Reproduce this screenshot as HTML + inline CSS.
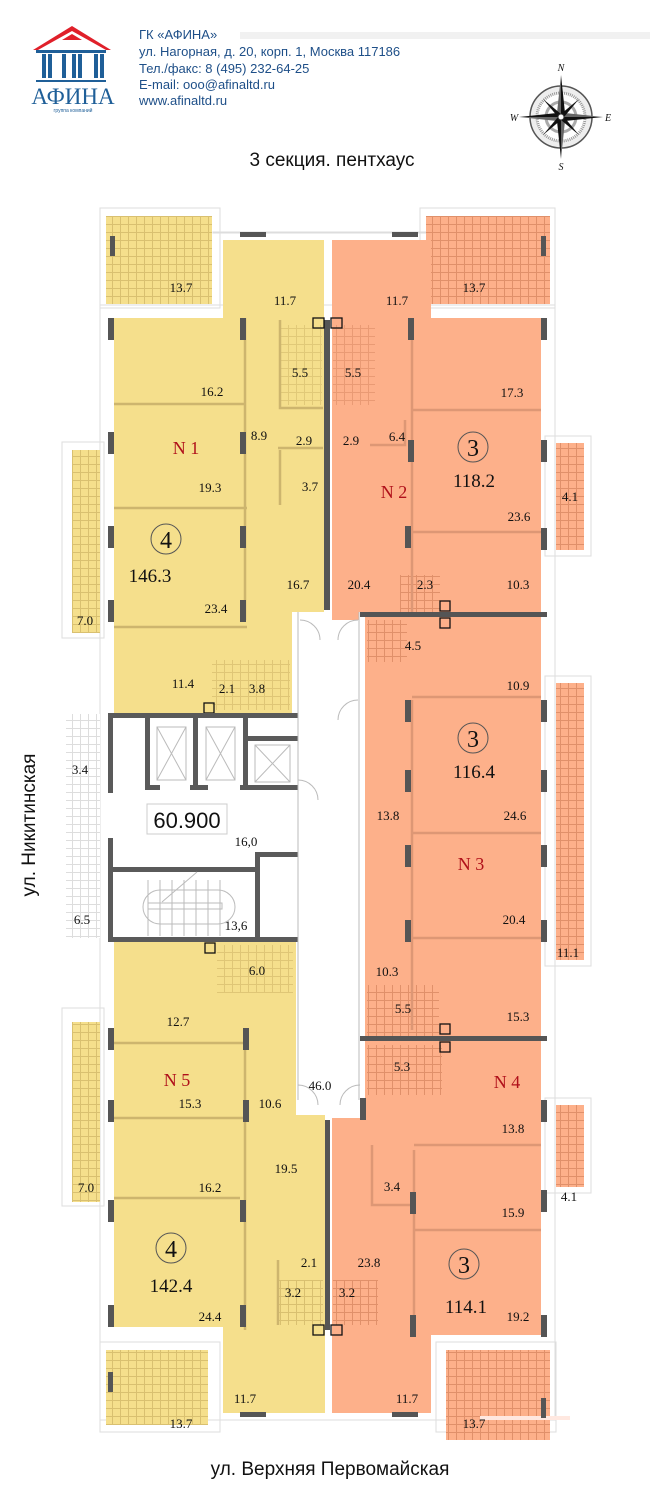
<!DOCTYPE html>
<html><head><meta charset="utf-8"><style>
html,body{margin:0;padding:0;background:#fff;width:650px;height:1500px;overflow:hidden}
svg text{font-family:"Liberation Serif",serif;fill:#111}
svg text.s, svg .s text{font-family:"Liberation Sans",sans-serif}
</style></head><body>
<svg width="650" height="1500" viewBox="0 0 650 1500" xmlns="http://www.w3.org/2000/svg">
<defs>
<pattern id="ty" width="8" height="8" patternUnits="userSpaceOnUse"><rect width="8" height="8" fill="#f5df8c"/><path d="M0 .5H8M.5 0V8" stroke="#d9c070" stroke-width="1"/></pattern>
<pattern id="to" width="8" height="8" patternUnits="userSpaceOnUse"><rect width="8" height="8" fill="#fdb08a"/><path d="M0 .5H8M.5 0V8" stroke="#e0906a" stroke-width="1"/></pattern>
<pattern id="tg" width="8" height="8" patternUnits="userSpaceOnUse"><rect width="8" height="8" fill="#fff"/><path d="M0 .5H8M.5 0V8" stroke="#ddd" stroke-width="1"/></pattern>
</defs>

<!-- header -->
<rect x="240" y="32" width="410" height="7" fill="#f1f1f1"/>
<g fill="#1f5f98">
<rect x="36" y="50" width="70" height="3"/>
<rect x="42" y="54" width="4" height="24"/><rect x="48" y="54" width="4" height="24"/>
<rect x="72" y="54" width="4" height="24"/><rect x="78" y="54" width="4" height="24"/>
<rect x="62" y="54" width="4" height="24"/>
<rect x="94" y="54" width="4" height="24"/><rect x="100" y="54" width="4" height="24"/>
<rect x="36" y="80" width="70" height="2"/>
</g>
<path d="M33 50 L72 26 L111 50 L106 50 L72 31 L38 50Z" fill="#e0202a"/>
<path d="M62 40 L72 34 L82 40Z" fill="#e0202a"/>
<text x="73" y="104" text-anchor="middle" style="font-size:23px;fill:#1f5f98">АФИНА</text>
<text x="73" y="112" text-anchor="middle" class="s" style="font-size:5px;fill:#1f5f98">группа компаний</text>
<g class="s" style="font-size:13px">
<text x="139" y="39" style="fill:#1e4f88">ГК «АФИНА»</text>
<text x="139" y="56" style="fill:#1e4f88">ул. Нагорная, д. 20, корп. 1, Москва 117186</text>
<text x="139" y="73" style="fill:#1e4f88">Тел./факс: 8 (495) 232-64-25</text>
<text x="139" y="89" style="fill:#1e4f88">E-mail: ooo@afinaltd.ru</text>
<text x="139" y="105" style="fill:#1e4f88">www.afinaltd.ru</text>
</g>
<!-- compass -->
<g transform="translate(561,117)">
<circle r="31" fill="#eee" stroke="#555" stroke-width="1.5"/>
<circle r="24" fill="#fff" stroke="#999" stroke-width="3" stroke-dasharray="1 1"/>
<circle r="15" fill="none" stroke="#aaa" stroke-width="3"/>
<path d="M0 -42 L4 -4 L0 0Z M0 42 L-4 4 L0 0Z M-42 0 L-4 -4 L0 0Z M42 0 L4 4 L0 0Z" fill="#111"/>
<path d="M0 -42 L-4 -4 L0 0Z M0 42 L4 4 L0 0Z M-42 0 L-4 4 L0 0Z M42 0 L4 -4 L0 0Z" fill="#666"/>
<path d="M-18 -18 L0 -3 L-3 0Z M18 18 L0 3 L3 0Z M18 -18 L3 0 L0 -3Z M-18 18 L-3 0 L0 3Z" fill="#111"/>
<circle r="3" fill="#fff" stroke="#333"/>
<text y="-46" text-anchor="middle" style="font-size:10px;font-style:italic">N</text>
<text y="53" text-anchor="middle" style="font-size:10px;font-style:italic">S</text>
<text x="-47" y="4" text-anchor="middle" style="font-size:10px;font-style:italic">W</text>
<text x="47" y="4" text-anchor="middle" style="font-size:10px;font-style:italic">E</text>
</g>
<text x="332" y="166" text-anchor="middle" class="s" style="font-size:19px">3 секция. пентхаус</text>

<!-- outer thin outlines -->
<g fill="none" stroke="#ddd" stroke-width="1">
<rect x="100" y="208" width="120" height="100"/>
<rect x="420" y="208" width="135" height="100"/>
<rect x="100" y="305" width="455" height="1115"/>
<rect x="62" y="442" width="42" height="196"/>
<rect x="545" y="436" width="46" height="120"/>
<rect x="545" y="676" width="46" height="290"/>
<rect x="545" y="1098" width="46" height="95"/>
<rect x="62" y="1008" width="42" height="198"/>
<rect x="100" y="1342" width="120" height="90"/>
<rect x="436" y="1342" width="120" height="90"/>
<rect x="213" y="232" width="225" height="1"/>
</g>

<!-- balconies -->
<rect x="106" y="216" width="106" height="88" fill="url(#ty)"/>
<rect x="426" y="216" width="124" height="88" fill="url(#to)"/>
<rect x="72" y="450" width="28" height="183" fill="url(#ty)"/>
<rect x="556" y="443" width="28" height="107" fill="url(#to)"/>
<rect x="556" y="683" width="28" height="277" fill="url(#to)"/>
<rect x="556" y="1105" width="28" height="82" fill="url(#to)"/>
<rect x="72" y="1022" width="28" height="180" fill="url(#ty)"/>
<rect x="106" y="1350" width="102" height="75" fill="url(#ty)"/>
<rect x="446" y="1350" width="104" height="90" fill="url(#to)"/>
<rect x="66" y="714" width="34" height="224" fill="url(#tg)"/>
<rect x="480" y="1416" width="90" height="4" fill="#ffe8e0"/>

<!-- yellow units -->
<path d="M223 240 H324 V612 H292 V714 H114 V318 H223Z" fill="#f5df8c"/>
<path d="M114 942 H296 V1115 H325 V1413 H223 V1327 H114Z" fill="#f5df8c"/>
<!-- orange units -->
<path d="M332 240 H431 V318 H541 V612 H359 V620 H332Z" fill="#fdb08a"/>
<rect x="365" y="615" width="176" height="425" fill="#fdb08a"/>
<path d="M365 1040 H541 V1335 H431 V1413 H332 V1118 H365Z" fill="#fdb08a"/>

<!-- wet zone tiles -->
<rect x="280" y="325" width="42" height="80" fill="url(#ty)" opacity=".7"/>
<rect x="333" y="325" width="42" height="80" fill="url(#to)" opacity=".7"/>
<rect x="367" y="620" width="40" height="42" fill="url(#to)"/>
<rect x="400" y="575" width="40" height="40" fill="url(#to)"/>
<rect x="212" y="660" width="78" height="50" fill="url(#ty)" opacity=".8"/>
<rect x="217" y="945" width="76" height="48" fill="url(#ty)" opacity=".8"/>
<rect x="367" y="985" width="72" height="52" fill="url(#to)"/>
<rect x="367" y="1045" width="75" height="50" fill="url(#to)"/>
<rect x="278" y="1280" width="45" height="45" fill="url(#ty)"/>
<rect x="333" y="1280" width="45" height="45" fill="url(#to)"/>

<!-- interior partitions -->
<g stroke="#cdb56e" stroke-width="2.5" fill="none">
<path d="M114 404 H245 M114 508 H247 M114 627 H247 M245 318 V620"/>
<path d="M280 320 V408 H323 M278 448 H323 M280 450 V505 M114 1043 H245 M114 1118 H245 M114 1198 H240 M245 1030 V1330 M278 1260 V1325"/>
</g>
<g stroke="#dd9775" stroke-width="2.5" fill="none">
<path d="M412 318 V612 M412 410 H541 M412 532 H541 M370 445 H405 V420 M412 700 V1030 M412 697 H541 M412 833 H541 M412 938 H541 M414 1150 V1330 M414 1230 H541 M414 1145 H541 M372 1145 V1205 H413"/>
</g>
<!-- dark wall blocks -->
<g fill="#555">
<rect x="108" y="318" width="6" height="22"/><rect x="108" y="432" width="6" height="22"/><rect x="108" y="526" width="6" height="22"/><rect x="108" y="600" width="6" height="22"/>
<rect x="240" y="318" width="6" height="22"/><rect x="240" y="432" width="6" height="22"/><rect x="240" y="526" width="6" height="22"/><rect x="240" y="600" width="6" height="22"/>
<rect x="324" y="320" width="6" height="290"/>
<rect x="110" y="236" width="5" height="20"/><rect x="541" y="236" width="5" height="20"/>
<rect x="240" y="232" width="26" height="5"/><rect x="392" y="232" width="26" height="5"/>
<rect x="541" y="318" width="6" height="22"/><rect x="541" y="440" width="6" height="22"/><rect x="541" y="528" width="6" height="22"/>
<rect x="408" y="318" width="6" height="22"/><rect x="408" y="440" width="6" height="22"/><rect x="405" y="526" width="6" height="22"/>
<rect x="360" y="612" width="187" height="5"/><rect x="360" y="1036" width="187" height="5"/>
<rect x="405" y="700" width="6" height="22"/><rect x="405" y="770" width="6" height="22"/><rect x="405" y="845" width="6" height="22"/><rect x="405" y="920" width="6" height="22"/>
<rect x="541" y="700" width="6" height="22"/><rect x="541" y="770" width="6" height="22"/><rect x="541" y="845" width="6" height="22"/><rect x="541" y="920" width="6" height="22"/>
<rect x="108" y="1028" width="6" height="22"/><rect x="108" y="1100" width="6" height="22"/><rect x="108" y="1200" width="6" height="22"/><rect x="108" y="1305" width="6" height="22"/>
<rect x="243" y="1028" width="6" height="22"/><rect x="243" y="1100" width="6" height="22"/><rect x="240" y="1200" width="6" height="22"/><rect x="240" y="1305" width="6" height="22"/>
<rect x="325" y="1120" width="5" height="210"/>
<rect x="541" y="1100" width="6" height="22"/><rect x="541" y="1190" width="6" height="22"/><rect x="541" y="1315" width="6" height="22"/>
<rect x="410" y="1192" width="6" height="22"/><rect x="410" y="1315" width="6" height="22"/><rect x="360" y="1098" width="6" height="22"/>
<rect x="240" y="1412" width="26" height="5"/><rect x="392" y="1412" width="26" height="5"/>
<rect x="108" y="1372" width="5" height="20"/><rect x="541" y="1398" width="5" height="20"/>
</g>
<!-- small square markers -->
<g fill="none" stroke="#111" stroke-width="1.3">
<rect x="313" y="318" width="11" height="10"/><rect x="331" y="318" width="11" height="10"/>
<rect x="440" y="601" width="10" height="10"/><rect x="440" y="618" width="10" height="10"/>
<rect x="204" y="703" width="10" height="10"/><rect x="205" y="943" width="10" height="10"/>
<rect x="440" y="1024" width="10" height="10"/><rect x="440" y="1042" width="10" height="10"/>
<rect x="313" y="1325" width="11" height="10"/><rect x="331" y="1325" width="11" height="10"/>
</g>

<!-- core -->
<g fill="#5a5a5a">
<rect x="108" y="713" width="190" height="5"/>
<rect x="108" y="713" width="5" height="80"/>
<rect x="108" y="838" width="5" height="104"/>
<rect x="108" y="937" width="190" height="5"/>
<rect x="145" y="718" width="5" height="72"/><rect x="193" y="718" width="5" height="72"/>
<rect x="243" y="718" width="5" height="72"/><rect x="248" y="736" width="50" height="5"/>
<rect x="248" y="785" width="50" height="5"/>
<rect x="145" y="785" width="15" height="5"/><rect x="190" y="785" width="18" height="5"/><rect x="240" y="785" width="10" height="5"/>
<rect x="113" y="867" width="145" height="5"/><rect x="255" y="852" width="5" height="88"/><rect x="255" y="852" width="43" height="5"/>
</g>
<g stroke="#bbb" fill="none" stroke-width="1">
<path d="M157 727 H186 V780 H157Z M157 727 L186 780 M186 727 L157 780"/>
<path d="M206 727 H235 V780 H206Z M206 727 L235 780 M235 727 L206 780"/>
<path d="M255 745 H290 V782 H255Z M255 745 L290 782 M290 745 L255 782"/>
<path d="M160 890 A12 12 0 0 0 160 924 H218 A12 12 0 0 0 218 890Z"/>
<path d="M148 903 H222 V909 H148Z M148 880 V936 M160 880 V936 M172 880 V936 M184 880 V936 M196 880 V936 M208 880 V936 M220 880 V936"/>
<path d="M162 902 L197 872"/>
<path d="M298 612 V1100 M359 612 V1100"/>
<path d="M300 620 A20 20 0 0 1 320 640 M358 620 A20 20 0 0 0 338 640 M358 700 A20 20 0 0 0 338 720 M298 780 A20 20 0 0 1 318 800 M298 1085 A20 20 0 0 1 318 1105 M360 1085 A20 20 0 0 0 340 1105"/>
</g>
<rect x="147" y="804" width="80" height="30" fill="#fff" stroke="#ccc"/>
<text x="187" y="828" text-anchor="middle" class="s" style="font-size:22px">60.900</text>

<!-- labels -->
<g style="font-size:13px" text-anchor="middle">
<text x="181" y="292">13.7</text><text x="474" y="292">13.7</text>
<text x="285" y="305">11.7</text><text x="397" y="305">11.7</text>
<text x="300" y="377">5.5</text><text x="353" y="377">5.5</text>
<text x="212" y="396">16.2</text><text x="512" y="397">17.3</text>
<text x="259" y="440">8.9</text><text x="304" y="445">2.9</text><text x="351" y="445">2.9</text><text x="397" y="441">6.4</text>
<text x="210" y="492">19.3</text><text x="310" y="491">3.7</text>
<text x="519" y="521">23.6</text><text x="570" y="501">4.1</text>
<text x="298" y="589">16.7</text><text x="359" y="589">20.4</text><text x="425" y="589">2.3</text><text x="518" y="589">10.3</text>
<text x="216" y="613">23.4</text><text x="85" y="625">7.0</text>
<text x="413" y="650">4.5</text>
<text x="183" y="688">11.4</text><text x="227" y="693">2.1</text><text x="257" y="693">3.8</text>
<text x="518" y="690">10.9</text>
<text x="80" y="774">3.4</text>
<text x="388" y="820">13.8</text><text x="515" y="820">24.6</text>
<text x="246" y="846">16,0</text>
<text x="82" y="924">6.5</text><text x="236" y="930">13,6</text>
<text x="514" y="924">20.4</text><text x="568" y="957">11.1</text>
<text x="387" y="976">10.3</text>
<text x="257" y="975">6.0</text>
<text x="403" y="1013">5.5</text><text x="518" y="1021">15.3</text>
<text x="178" y="1026">12.7</text>
<text x="402" y="1071">5.3</text>
<text x="320" y="1090">46.0</text>
<text x="190" y="1108">15.3</text><text x="270" y="1108">10.6</text>
<text x="513" y="1133">13.8</text>
<text x="286" y="1173">19.5</text>
<text x="392" y="1191">3.4</text>
<text x="86" y="1192">7.0</text><text x="569" y="1201">4.1</text>
<text x="210" y="1192">16.2</text>
<text x="513" y="1217">15.9</text>
<text x="369" y="1267">23.8</text>
<text x="309" y="1267">2.1</text>
<text x="293" y="1297">3.2</text><text x="347" y="1297">3.2</text>
<text x="518" y="1321">19.2</text>
<text x="210" y="1321">24.4</text>
<text x="245" y="1403">11.7</text><text x="407" y="1403">11.7</text>
<text x="181" y="1428">13.7</text><text x="474" y="1428">13.7</text>
</g>
<g style="font-size:18px" text-anchor="middle">
<text x="186" y="454" style="fill:#b0101a">N 1</text>
<text x="394" y="498" style="fill:#b0101a">N 2</text>
<text x="471" y="870" style="fill:#b0101a">N 3</text>
<text x="507" y="1088" style="fill:#b0101a">N 4</text>
<text x="177" y="1086" style="fill:#b0101a">N 5</text>
</g>
<g fill="none" stroke="#555" stroke-width="1">
<circle cx="166" cy="539" r="15"/><circle cx="473" cy="447" r="15"/><circle cx="473" cy="738" r="15"/>
<circle cx="171" cy="1248" r="15"/><circle cx="464" cy="1264" r="15"/>
</g>
<g style="font-size:24px" text-anchor="middle">
<text x="166" y="548">4</text><text x="473" y="456">3</text><text x="473" y="747">3</text>
<text x="171" y="1257">4</text><text x="464" y="1273">3</text>
</g>
<g style="font-size:19px" text-anchor="middle">
<text x="150" y="582">146.3</text><text x="474" y="487">118.2</text><text x="474" y="778">116.4</text>
<text x="171" y="1292">142.4</text><text x="466" y="1313">114.1</text>
</g>

<text transform="translate(35,825) rotate(-90)" text-anchor="middle" class="s" style="font-size:19px">ул. Никитинская</text>
<text x="330" y="1475" text-anchor="middle" class="s" style="font-size:19px">ул. Верхняя Первомайская</text>
</svg>
</body></html>
